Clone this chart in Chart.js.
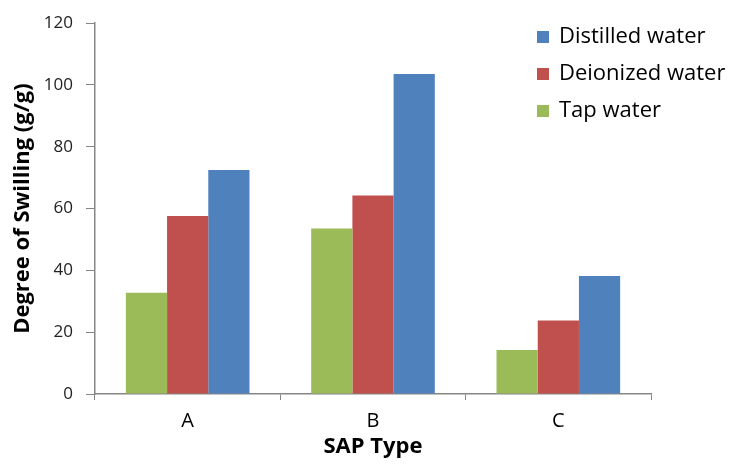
<!DOCTYPE html>
<html>
<head>
<meta charset="utf-8">
<script src="https://cdn.jsdelivr.net/npm/chart.js@4.4.1/dist/chart.umd.min.js"></script>
<style>
    html, body { margin: 0; padding: 0; background: #fff; }
    #wrap { width: 731px; height: 464px; }
</style>
</head>
<body>
<div id="wrap"><canvas id="swellChart" width="731" height="464"></canvas></div>
<script>
const sapTypes = ['A', 'B', 'C'];
const tapWater = [32.8, 53.6, 14.2];
const deionizedWater = [57.6, 64.2, 23.8];
const distilledWater = [72.5, 103.6, 38.2];

const axisGray = '#868686';
const fontFamily = '"Open Sans", Lato, sans-serif';

// legend sits inside the plot, top right, like the original
const insideLegend = {
    id: 'insideLegend',
    afterDraw(chart) {
        const ctx = chart.ctx;
        const items = chart.data.datasets.slice().reverse();
        ctx.save();
        ctx.font = '22px ' + fontFamily;
        ctx.textBaseline = 'middle';
        items.forEach((ds, i) => {
            const y = 37 + i * 37;
            ctx.fillStyle = ds.backgroundColor;
            ctx.fillRect(537, y - 6, 12, 12);
            ctx.fillStyle = '#000';
            ctx.fillText(ds.label, 559, y);
        });
        ctx.restore();
    }
};

const ctx = document.getElementById('swellChart').getContext('2d');
const swellChart = new Chart(ctx, {
    type: 'bar',
    data: {
        labels: sapTypes,
        datasets: [
            { label: 'Tap water', data: tapWater, backgroundColor: '#9bbb59' },
            { label: 'Deionized water', data: deionizedWater, backgroundColor: '#c0504d' },
            { label: 'Distilled water', data: distilledWater, backgroundColor: '#4f81bd' }
        ]
    },
    options: {
        responsive: false,
        animation: false,
        layout: { padding: { top: 17, right: 80, left: 10, bottom: 4 } },
        datasets: { bar: { barPercentage: 1, categoryPercentage: 0.667 } },
        plugins: {
            legend: { display: false },
            tooltip: { enabled: false }
        },
        scales: {
            x: {
                afterFit: (s) => { s.height = 66; },
                border: { display: true, color: axisGray, width: 1.5 },
                grid: { display: true, drawOnChartArea: false, drawTicks: true, tickLength: 6, color: axisGray, offset: true },
                ticks: { color: '#000', font: { family: fontFamily, size: 20 }, padding: 9 },
                title: { display: true, text: 'SAP Type', color: '#000', font: { family: fontFamily, size: 22, weight: 'bold' }, padding: { top: 0, bottom: 0 } }
            },
            y: {
                min: 0,
                max: 120,
                afterFit: (s) => { s.width = 85; },
                border: { display: true, color: axisGray, width: 1.5 },
                grid: { display: true, drawOnChartArea: false, drawTicks: true, tickLength: 9, color: axisGray },
                ticks: { stepSize: 20, color: '#222', font: { family: fontFamily, size: 17 }, padding: 13 },
                title: { display: true, text: 'Degree of Swilling (g/g)', color: '#000', font: { family: fontFamily, size: 22, weight: 'bold' }, padding: { top: 0, bottom: 0 } }
            }
        }
    },
    plugins: [insideLegend]
});
</script>
</body>
</html>
